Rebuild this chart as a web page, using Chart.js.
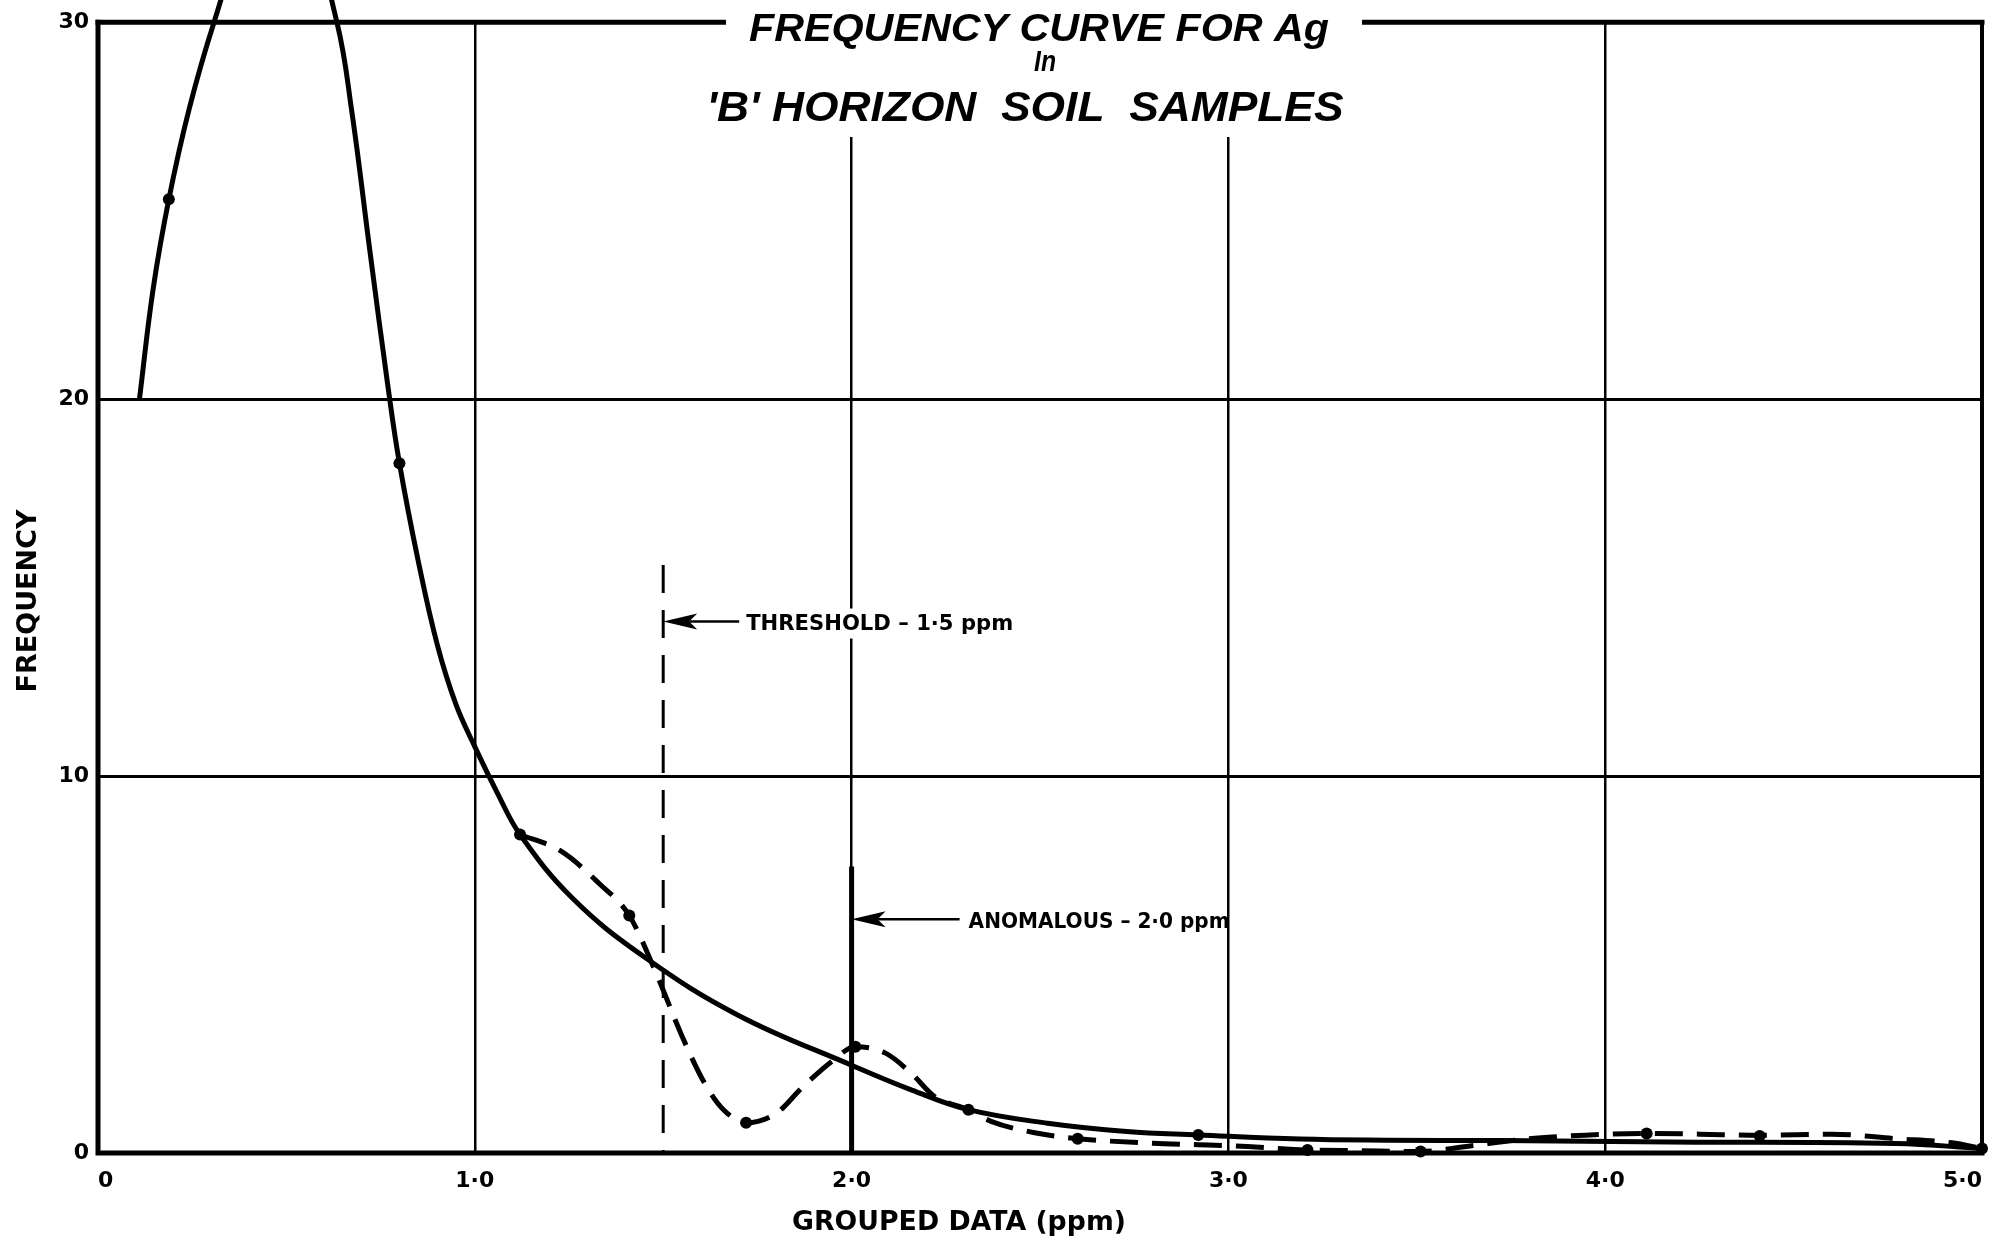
<!DOCTYPE html>
<html>
<head>
<meta charset="utf-8">
<script src="https://cdn.jsdelivr.net/npm/chart.js@4.4.1/dist/chart.umd.min.js"></script>
<style>
  html, body { margin: 0; padding: 0; background: #fff; }
  #chart { display: block; }
</style>
</head>
<body>
<canvas id="chart" width="1997" height="1248"></canvas>
<script>
// --- data ---
const xTicks = [0, 1, 2, 3, 4, 5];
const xTickLabels = ['0', '1·0', '2·0', '3·0', '4·0', '5·0'];
const yTicks = [0, 10, 20, 30];

// smooth frequency curve (solid)
const fitX = [0.110, 0.146, 0.188, 0.242, 0.308, 0.38, 0.47, 0.56, 0.634, 0.674, 0.722, 0.77, 0.80, 0.85, 0.90, 0.95, 1.0, 1.06, 1.12, 1.26, 1.45, 1.7, 2.0, 2.16, 2.31, 2.52, 2.73, 2.92, 3.19, 3.42, 3.72, 4.17, 4.77, 5.0];
const fitY = [20, 22.9, 25.3, 27.7, 30, 32.0, 33.2, 32.3, 30, 27.6, 23.9, 20.3, 18.3, 15.7, 13.5, 11.9, 10.78, 9.55, 8.45, 6.75, 5.2, 3.65, 2.33, 1.67, 1.15, 0.79, 0.57, 0.48, 0.37, 0.34, 0.33, 0.29, 0.25, 0.12];

// curve through the grouped data above 1.1 ppm (dashed)
const obsX = [1.12, 1.23, 1.33, 1.41, 1.48, 1.55, 1.61, 1.66, 1.72, 1.80, 1.87, 1.95, 2.01, 2.09, 2.16, 2.22, 2.31, 2.37, 2.49, 2.60, 2.80, 2.92, 3.05, 3.21, 3.35, 3.51, 3.65, 3.76, 3.87, 4.0, 4.11, 4.25, 4.41, 4.6, 4.77, 4.92, 5.0];
const obsY = [8.45, 8.0, 7.15, 6.3, 4.8, 3.1, 1.85, 1.15, 0.8, 1.05, 1.75, 2.45, 2.82, 2.65, 2.1, 1.5, 1.15, 0.84, 0.53, 0.38, 0.26, 0.22, 0.17, 0.08, 0.06, 0.04, 0.2, 0.34, 0.43, 0.5, 0.52, 0.5, 0.47, 0.5, 0.38, 0.27, 0.12];

// plotted grouped-data points
const pointX = [0.188, 0.80, 1.12, 1.41, 1.72, 2.01, 2.31, 2.60, 2.92, 3.21, 3.51, 4.11, 4.41, 5.0];
const pointY = [25.3, 18.3, 8.45, 6.3, 0.8, 2.82, 1.15, 0.38, 0.48, 0.08, 0.04, 0.52, 0.45, 0.12];

// reference levels
const thresholdX = [1.5, 1.5];
const thresholdY = [15.6, 0];
const thresholdArrowY = 14.1;
const anomalousX = [2.0, 2.0];
const anomalousY = [7.6, 0];
const anomalousArrowY = 6.2;

const titleLines = ['FREQUENCY CURVE FOR Ag', 'In', "'B' HORIZON  SOIL  SAMPLES"];
const xTitle = 'GROUPED DATA (ppm)';
const yTitle = 'FREQUENCY';

const toPoints = (xs, ys) => xs.map((x, i) => ({ x: x, y: ys[i] }));

// draw text squeezed/stretched to a given width
function fitText(ctx, text, x, y, font, width, align, rot) {
    ctx.save();
    ctx.font = font;
    const w = ctx.measureText(text).width;
    ctx.translate(x, y);
    if (rot) ctx.rotate(rot);
    ctx.scale(width / w, 1);
    ctx.textAlign = align;
    ctx.fillText(text, 0, 0);
    ctx.restore();
}

function drawArrow(ctx, tipX, y, shaftEnd) {
    ctx.beginPath();
    ctx.moveTo(tipX, y);
    ctx.lineTo(tipX + 34, y - 8);
    ctx.lineTo(tipX + 26, y);
    ctx.lineTo(tipX + 34, y + 8);
    ctx.closePath();
    ctx.fill();
    ctx.lineWidth = 2.5;
    ctx.beginPath();
    ctx.moveTo(tipX + 26, y);
    ctx.lineTo(shaftEnd, y);
    ctx.stroke();
}

const annotations = {
    id: 'annotations',
    afterDatasetsDraw(chart) {
        const { ctx, chartArea: a, scales: { x, y } } = chart;
        ctx.save();
        ctx.strokeStyle = '#000';
        ctx.fillStyle = '#000';
        ctx.lineCap = 'square';

        // frame
        ctx.lineWidth = 5;
        ctx.beginPath();
        ctx.moveTo(a.left, a.top);
        ctx.lineTo(a.left, a.bottom);
        ctx.lineTo(a.right, a.bottom);
        ctx.stroke();
        ctx.beginPath();
        ctx.moveTo(a.left, a.top);
        ctx.lineTo(a.right, a.top);
        ctx.stroke();
        ctx.lineWidth = 4;
        ctx.beginPath();
        ctx.moveTo(a.right, a.top);
        ctx.lineTo(a.right, a.bottom);
        ctx.stroke();
        ctx.lineCap = 'butt';

        // threshold label
        const tx = x.getPixelForValue(thresholdX[0]);
        const ty = y.getPixelForValue(thresholdArrowY);
        ctx.fillStyle = '#fff';
        ctx.fillRect(tx + 80, ty - 13, 276, 30);
        ctx.fillStyle = '#000';
        drawArrow(ctx, tx, ty, tx + 76);
        ctx.textBaseline = 'middle';
        fitText(ctx, 'THRESHOLD – 1·5 ppm', tx + 83, ty + 3, 'bold 21px "DejaVu Sans"', 267, 'left');

        // anomalous label
        const ax = x.getPixelForValue(anomalousX[0]);
        const ay = y.getPixelForValue(anomalousArrowY);
        drawArrow(ctx, ax, ay, ax + 108);
        fitText(ctx, 'ANOMALOUS – 2·0 ppm', ax + 117, ay + 3, 'bold 21px "DejaVu Sans"', 261, 'left');

        // axis titles
        fitText(ctx, xTitle, 959, 1223, 'bold 27px "DejaVu Sans"', 334, 'center');
        fitText(ctx, yTitle, 29, 601, 'bold 27px "DejaVu Sans"', 183, 'center', -Math.PI / 2);
        ctx.restore();
    },
    afterDraw(chart) {
        const { ctx } = chart;
        ctx.save();
        // title breaks the top border and the upper grid lines
        ctx.fillStyle = '#fff';
        ctx.fillRect(726, 0, 636, 137);
        ctx.fillStyle = '#000';
        ctx.textBaseline = 'alphabetic';
        fitText(ctx, titleLines[0], 1039, 41, 'italic bold 38px "Liberation Sans"', 580, 'center');
        fitText(ctx, titleLines[1], 1045, 71, 'italic bold 29px "Liberation Sans"', 22, 'center');
        fitText(ctx, titleLines[2], 1025, 121, 'italic bold 43px "Liberation Sans"', 637, 'center');
        ctx.restore();
    }
};

Chart.defaults.font.family = '"DejaVu Sans", sans-serif';
Chart.defaults.color = '#000';

new Chart(document.getElementById('chart'), {
    type: 'line',
    data: {
        datasets: [
            {
                label: 'Points',
                data: toPoints(pointX, pointY),
                showLine: false,
                pointRadius: 6,
                pointBackgroundColor: '#000',
                pointBorderWidth: 0,
                clip: false
            },
            {
                label: 'Frequency curve',
                data: toPoints(fitX, fitY),
                borderColor: '#000',
                borderWidth: 5,
                pointRadius: 0,
                tension: 0.4,
                clip: false
            },
            {
                label: 'Grouped data',
                data: toPoints(obsX, obsY),
                borderColor: '#000',
                borderWidth: 5,
                borderDash: [28, 14],
                pointRadius: 0,
                cubicInterpolationMode: 'monotone'
            },
            {
                label: 'Threshold',
                data: toPoints(thresholdX, thresholdY),
                borderColor: '#000',
                borderWidth: 3,
                borderDash: [28, 17],
                pointRadius: 0
            },
            {
                label: 'Anomalous',
                data: toPoints(anomalousX, anomalousY),
                borderColor: '#000',
                borderWidth: 5,
                pointRadius: 0
            }
        ]
    },
    options: {
        responsive: false,
        devicePixelRatio: 1,
        animation: false,
        layout: { padding: { left: 0, top: 20, right: 7, bottom: 0 } },
        plugins: {
            legend: { display: false },
            tooltip: { enabled: false }
        },
        scales: {
            x: {
                type: 'linear',
                min: 0,
                max: 5,
                afterFit(scale) { scale.height = 95; },
                afterBuildTicks(scale) { scale.ticks = xTicks.map(v => ({ value: v })); },
                border: { display: false },
                grid: {
                    color: '#000',
                    drawTicks: false,
                    lineWidth: c => (c.tick && (c.tick.value === 0 || c.tick.value === 5)) ? 0 : 2.5
                },
                ticks: {
                    align: 'inner',
                    padding: 15,
                    font: { size: 22, weight: 'bold' },
                    callback: v => xTickLabels[xTicks.indexOf(v)]
                }
            },
            y: {
                min: 0,
                max: 30,
                afterFit(scale) { scale.width = 98; },
                afterBuildTicks(scale) { scale.ticks = yTicks.map(v => ({ value: v })); },
                border: { display: false },
                grid: {
                    color: '#000',
                    drawTicks: false,
                    lineWidth: c => (c.tick && (c.tick.value === 0 || c.tick.value === 30)) ? 0 : 3
                },
                ticks: {
                    padding: 9,
                    font: { size: 22, weight: 'bold' }
                }
            }
        }
    },
    plugins: [annotations]
});
</script>
</body>
</html>
